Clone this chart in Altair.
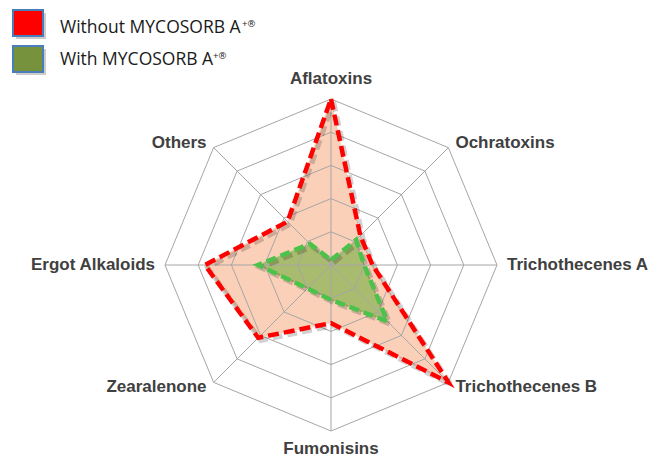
import altair as alt
import pandas as pd

# ---- data ----
categories = ["Aflatoxins", "Ochratoxins", "Trichothecenes A", "Trichothecenes B",
              "Fumonisins", "Zearalenone", "Ergot Alkaloids", "Others"]
without_vals = [5.0, 1.25, 1.25, 5.0, 1.75, 3.1, 3.8, 1.85]
with_vals = [0.15, 1.07, 1.0, 2.4, 1.05, 1.0, 2.2, 0.9]
ring_levels = [1, 2, 3, 4, 5]
series_names = ["Without MYCOSORB A", "With MYCOSORB A"]
legend_sup = "+®"

# ---- layout ----
W, H = 646, 449
CX, CY = 323, 257
PPU = 33.2
x_dom = [-CX / PPU, (W - CX) / PPU]
y_dom = [-(H - CY) / PPU, CY / PPU]
N = len(categories)

def series_df(name, vals):
    rows = []
    for i in range(N + 1):
        rows.append({"series": name, "idx": i, "category": categories[i % N], "value": vals[i % N]})
    return pd.DataFrame(rows)

df_without = series_df(series_names[0], without_vals)
df_with = series_df(series_names[1], with_vals)

df_rings = pd.DataFrame([{"level": lv, "idx": i} for lv in ring_levels for i in range(N + 1)])
df_spokes = pd.DataFrame([{"idx": i, "level": max(ring_levels)} for i in range(N)])
df_labels = pd.DataFrame([{"idx": i, "category": c} for i, c in enumerate(categories)])

xs = alt.Scale(domain=x_dom, nice=False, zero=False)
ys = alt.Scale(domain=y_dom, nice=False, zero=False)

def X(f):
    return alt.X(f, type="quantitative", scale=xs, axis=None)

def Y(f):
    return alt.Y(f, type="quantitative", scale=ys, axis=None)

ang = "datum.idx * PI / 4"

rings = alt.Chart(df_rings).transform_calculate(
    px=f"datum.level * sin({ang})", py=f"datum.level * cos({ang})"
).mark_line(color="#a6a6a6", strokeWidth=1).encode(
    x=X("px"), y=Y("py"), detail="level:N", order="idx:Q"
)

spokes = alt.Chart(df_spokes).transform_calculate(
    px=f"datum.level * sin({ang})", py=f"datum.level * cos({ang})", zero="0"
).mark_rule(color="#a6a6a6", strokeWidth=1).encode(
    x=X("px"), y=Y("py"), x2="zero:Q", y2="zero:Q"
)

def poly(df, **mk):
    return alt.Chart(df).transform_calculate(
        px=f"datum.value * sin({ang})", py=f"datum.value * cos({ang})"
    ).mark_line(**mk).encode(x=X("px"), y=Y("py"), order="idx:Q")

def shadow(df):
    return alt.Chart(df).transform_calculate(
        px=f"datum.value * sin({ang}) + 0.08", py=f"datum.value * cos({ang}) - 0.08"
    ).mark_line(color="#000000", opacity=0.18, strokeWidth=5, strokeDash=[10, 5]).encode(
        x=X("px"), y=Y("py"), order="idx:Q"
    )

fill_without = poly(df_without, fill="#fbd0b9", stroke="#fbd0b9", strokeWidth=0.5)
fill_with = poly(df_with, fill="#a9bb6e", stroke="#a9bb6e", strokeWidth=0.5)
line_without = poly(df_without, color="#ff0000", strokeWidth=4.5, strokeDash=[11, 5])
line_with = poly(df_with, color="#4cc24a", strokeWidth=4.5, strokeDash=[10, 5])

def labels(filter_expr, align, baseline, r):
    return alt.Chart(df_labels).transform_calculate(
        lx=f"{r} * sin({ang})", ly=f"{r} * cos({ang}) * 0.98"
    ).transform_filter(filter_expr).mark_text(
        align=align, baseline=baseline, font="Liberation Sans", fontWeight="bold",
        fontSize=17, color="#404040"
    ).encode(x=X("lx"), y=Y("ly"), text="category:N")

lab_right = labels("datum.idx >= 1 && datum.idx <= 3", "left", "middle", 5.3)
lab_left = labels("datum.idx >= 5", "right", "middle", 5.3)
lab_top = labels("datum.idx == 0", "center", "bottom", 5.45)
lab_bottom = labels("datum.idx == 4", "center", "top", 5.42)

# ---- legend ----
leg_df = pd.DataFrame({"name": series_names})

def legend_item(name, color, y0, base):
    d = leg_df[leg_df["name"] == name]
    sh = alt.Chart(d).mark_rect(color="#000000", opacity=0.2).encode(
        x=alt.value(8), x2=alt.value(38), y=alt.value(y0 + 3), y2=alt.value(y0 + 29))
    sq = alt.Chart(d).mark_rect(color=color, stroke="#4a7ebb", strokeWidth=2).encode(
        x=alt.value(5), x2=alt.value(35), y=alt.value(y0), y2=alt.value(y0 + 26))
    tx = alt.Chart(d).mark_text(align="left", baseline="alphabetic", font="Open Sans",
                                fontSize=17.5, color="#1a1a1a").encode(
        x=alt.value(52), y=alt.value(base), text="name:N")
    return [sh, sq, tx]

leg = legend_item(series_names[0], "#ff0000", 2, 25) + legend_item(series_names[1], "#76923c", 38, 57)

sup_df = pd.DataFrame({"s": [legend_sup]})
sup1 = alt.Chart(sup_df).mark_text(align="left", baseline="alphabetic", font="Open Sans",
                                  fontSize=9.5, color="#1a1a1a").encode(
    x=alt.value(234), y=alt.value(19), text="s:N")
sup2 = alt.Chart(sup_df).mark_text(align="left", baseline="alphabetic", font="Open Sans",
                                  fontSize=9.5, color="#1a1a1a").encode(
    x=alt.value(205), y=alt.value(51), text="s:N")

chart = alt.layer(
    fill_without, fill_with, rings, spokes,
    shadow(df_without), shadow(df_with),
    line_without, line_with,
    lab_right, lab_left, lab_top, lab_bottom,
    *leg, sup1, sup2
).properties(
    width=W, height=H, autosize=alt.AutoSizeParams(type="none"), padding=0
).configure_view(stroke=None)

chart.save("out.html", embed_options={"renderer": "svg", "actions": False})
